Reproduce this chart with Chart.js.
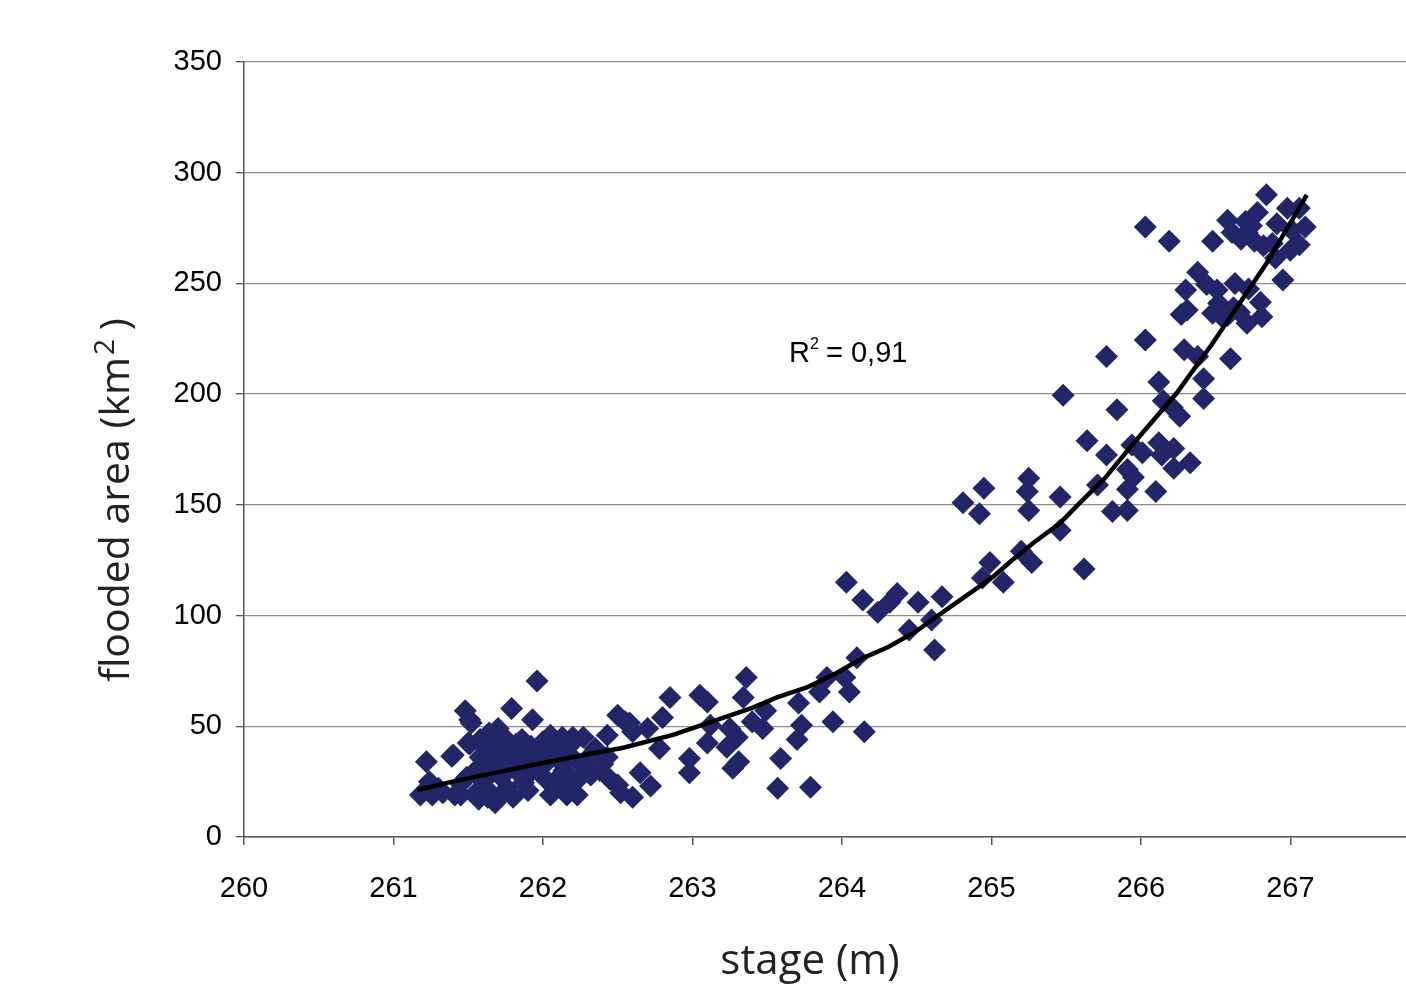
<!DOCTYPE html>
<html>
<head>
<meta charset="utf-8">
<title>flooded area vs stage</title>
<script src="https://cdn.jsdelivr.net/npm/chart.js"></script>
<style>
  html, body { margin: 0; padding: 0; background: #fff; overflow: hidden; }
  #wrap { position: absolute; left: 0; top: 0; width: 1491px; height: 998px; }
</style>
</head>
<body>
<div id="wrap"><canvas id="stageChart" width="1491" height="998"></canvas></div>
<script>
// mesures : cote (m) et surface inondée (km²)
const stage = [
  261.18, 261.26, 261.22, 261.24, 261.30, 261.39, 261.41, 261.40, 261.45, 261.48,
  261.49, 261.50, 261.51, 261.52, 261.51, 261.55, 261.55, 261.58, 261.60, 261.60,
  261.62, 261.63, 261.65, 261.66, 261.68, 261.68, 261.70, 261.71, 261.72, 261.73,
  261.75, 261.76, 261.78, 261.79, 261.80, 261.80, 261.82, 261.84, 261.85, 261.87,
  261.88, 261.90, 261.92, 261.93, 261.93, 261.96, 261.97, 262.00, 262.00, 262.02,
  262.05, 262.05, 262.06, 262.09, 262.10, 262.12, 262.14, 262.16, 262.18, 262.20,
  262.22, 262.23, 262.25, 262.27, 262.29, 262.32, 262.35, 262.38, 262.40, 262.43,
  262.43, 262.45, 262.50, 262.50, 262.52, 262.55, 262.58, 262.60, 262.60, 262.65,
  262.70, 262.72, 262.80, 262.85, 262.78,
  261.58, 261.64, 261.70, 261.74, 261.77, 261.83, 261.86, 261.91, 261.95, 261.99,
  262.03, 262.08, 262.13, 262.17, 262.19, 261.62, 261.57, 261.72, 261.90, 262.10,
  261.33, 261.45, 261.66,
  263.05, 263.10, 263.12, 263.10, 262.98, 262.98, 263.23, 263.25, 263.30, 263.27,
  263.31, 263.34, 263.36, 263.40, 263.47, 263.49, 263.59, 263.57, 263.71, 263.73,
  263.70, 263.79, 263.85, 263.90, 263.94, 264.02, 264.05, 264.10, 264.15, 264.03,
  264.14, 264.24, 264.32, 264.37, 264.51, 264.67, 264.45, 264.60, 264.62,
  264.94, 264.99, 265.08, 265.27, 265.20, 264.81, 264.92, 264.95, 265.25, 265.24,
  265.25, 265.46, 265.46, 265.48, 265.62, 265.64, 265.71, 265.77, 265.77, 265.81,
  265.84, 265.91, 265.91, 265.91, 265.94, 265.95, 266.01, 266.03, 266.03, 266.10,
  266.12, 266.12, 266.14, 266.15, 266.19, 266.21, 266.22, 266.22, 266.26, 266.29,
  266.30, 266.31, 266.33, 266.38, 266.38, 266.42, 266.42, 266.44, 266.48, 266.48,
  266.51, 266.52, 266.55, 266.58, 266.58, 266.60, 266.61, 266.62, 266.63, 266.66,
  266.67, 266.71, 266.71, 266.72, 266.76, 266.78, 266.80, 266.81, 266.82, 266.84,
  266.90, 266.91, 266.95, 266.98, 267.00, 267.01, 267.06, 267.06, 267.10, 266.70,
  266.74, 266.88, 266.27
];
const area = [
  19, 19, 34, 25, 22, 36.5, 19, 37, 24, 57,
  27, 42.5, 53, 51.5, 42, 30, 20, 36, 33, 25,
  40, 18, 29, 37, 15.5, 44, 49, 33, 27, 40,
  36, 22, 31, 58, 18, 38, 42, 34, 28, 24.5,
  39, 35, 41, 53, 30, 70.5, 37, 43, 32, 26,
  46, 19, 38, 26, 35, 41, 30, 19, 37, 45,
  25, 19, 33, 45, 35, 28, 40, 30, 33, 36,
  46, 26, 55, 23.5, 20, 52, 51.5, 47.5, 18, 29,
  49, 23, 54, 63, 40,
  44, 47, 39, 45, 35, 37, 44, 38, 34, 39,
  36, 41, 45, 28, 42, 22, 17, 19, 21, 23,
  20, 19, 30,
  64, 61, 50.5, 42.5, 35.5, 29, 40.5, 49, 45, 31,
  34, 63, 72, 52, 49, 57, 35.5, 22, 60.5, 50.5,
  44, 22.5, 65.5, 72, 52, 72, 65.5, 81, 47.5, 115,
  107, 101.5, 106, 110, 106, 108.5, 93.5, 98, 84.5,
  117, 124, 115, 124, 129, 151, 146, 157.5, 162, 156,
  147.5, 153.5, 138.5, 199.5, 121, 179, 159, 172.5, 217, 147,
  193, 147.5, 166, 157, 177, 162.5, 173.5, 275.5, 224.5, 156,
  205.5, 178, 172.5, 197, 269, 194, 175.5, 166.5, 190, 220,
  247, 238, 169, 217, 255, 207, 198, 249.5, 269, 236.5,
  247, 241, 234.5, 278.5, 235.5, 216, 273, 239, 250, 237,
  270, 273, 232, 247.5, 269, 282, 241.5, 235, 267, 290,
  261.5, 277, 251.5, 284, 265, 274, 284, 267.5, 275.5, 278,
  276, 268, 236
];
// courbe de tendance
const trendStage = [261.16, 261.38, 261.71, 262.00, 262.38, 262.53, 262.87, 263.12, 263.40, 263.57,
  263.77, 263.94, 264.14, 264.31, 264.49, 264.62, 264.79, 265.01, 265.14, 265.28,
  265.46, 265.59, 265.76, 265.93, 266.24, 266.48, 266.71, 266.84, 266.98, 267.11];
const trendArea = [21.2, 24.8, 29.4, 33.4, 38.4, 40.2, 46.1, 51.9, 58.3, 63.2,
  67.7, 73.2, 80.8, 85.8, 92.6, 98.9, 107, 117.4, 125.1, 132.8,
  141.8, 150.8, 162.1, 176.1, 200.5, 223, 246, 259, 275, 290];
const r2Text = '0,91';

const pts = stage.map((x, i) => ({ x: x, y: area[i] }));
const trend = trendStage.map((x, i) => ({ x: x, y: trendArea[i] }));

// titres d'axes et R² dessinés à la main
const labelsPlugin = {
  id: 'labels',
  afterDraw(chart) {
    const ctx = chart.ctx;
    ctx.save();
    ctx.fillStyle = '#222';
    // titre axe y
    ctx.translate(117, 500);
    ctx.rotate(-Math.PI / 2);
    ctx.textBaseline = 'middle';
    const a = 'flooded area (km';
    const b = ' )';
    ctx.font = '28px "Open Sans"';
    const w2 = ctx.measureText('2').width;
    ctx.font = '41px "Open Sans"';
    const wa = ctx.measureText(a).width;
    const wb = ctx.measureText(b).width;
    let x0 = -(wa + w2 + wb) / 2;
    ctx.textAlign = 'left';
    ctx.fillText(a, x0, 0);
    ctx.font = '28px "Open Sans"';
    ctx.fillText('2', x0 + wa + 2, -11);
    ctx.font = '41px "Open Sans"';
    ctx.fillText(b, x0 + wa + w2, 0);
    ctx.restore();

    ctx.save();
    ctx.fillStyle = '#222';
    ctx.textAlign = 'center';
    ctx.textBaseline = 'middle';
    ctx.font = '42px "Open Sans"';
    ctx.fillText('stage (m)', 810, 962);
    // R²
    ctx.fillStyle = '#000';
    ctx.textAlign = 'left';
    ctx.textBaseline = 'alphabetic';
    ctx.font = '29px "Liberation Sans", Arial';
    ctx.fillText('R', 789, 362);
    const wr = ctx.measureText('R').width;
    ctx.font = '16px "Liberation Sans", Arial';
    ctx.fillText('2', 789 + wr, 349);
    ctx.font = '29px "Liberation Sans", Arial';
    ctx.fillText(' = ' + r2Text, 789 + wr + 8, 362);
    ctx.restore();
  }
};

new Chart(document.getElementById('stageChart').getContext('2d'), {
  type: 'scatter',
  data: {
    datasets: [
      {
        type: 'line',
        label: 'tendance',
        data: trend,
        borderColor: '#000',
        borderWidth: 4.5,
        pointRadius: 0,
        tension: 0,
        fill: false,
        order: 0
      },
      {
        label: 'observations',
        data: pts,
        pointStyle: 'rectRot',
        pointRadius: 11.5,
        pointHoverRadius: 11.5,
        backgroundColor: '#222668',
        borderColor: '#222668',
        borderWidth: 0,
        order: 1
      }
    ]
  },
  options: {
    responsive: false,
    animation: false,
    layout: { padding: { left: 0, top: 62, right: 21, bottom: 0 } },
    plugins: { legend: { display: false }, tooltip: { enabled: false } },
    scales: {
      x: {
        type: 'linear',
        min: 260, max: 268,
        afterFit(s) { s.height = 161; },
        ticks: { stepSize: 1, padding: 27, color: '#000', font: { family: '"Liberation Sans", Arial', size: 29 } },
        grid: { drawOnChartArea: false, drawTicks: true, tickLength: 8, color: '#555', lineWidth: 1.5 },
        border: { color: '#555', width: 1.5 }
      },
      y: {
        min: 0, max: 350,
        afterFit(s) { s.width = 244; },
        ticks: { stepSize: 50, padding: 14, color: '#000', font: { family: '"Liberation Sans", Arial', size: 29 } },
        grid: { color: '#8c8c8c', lineWidth: 1.3, tickLength: 8, tickColor: '#555' },
        border: { color: '#555', width: 1.5 }
      }
    }
  },
  plugins: [labelsPlugin]
});
</script>
</body>
</html>
